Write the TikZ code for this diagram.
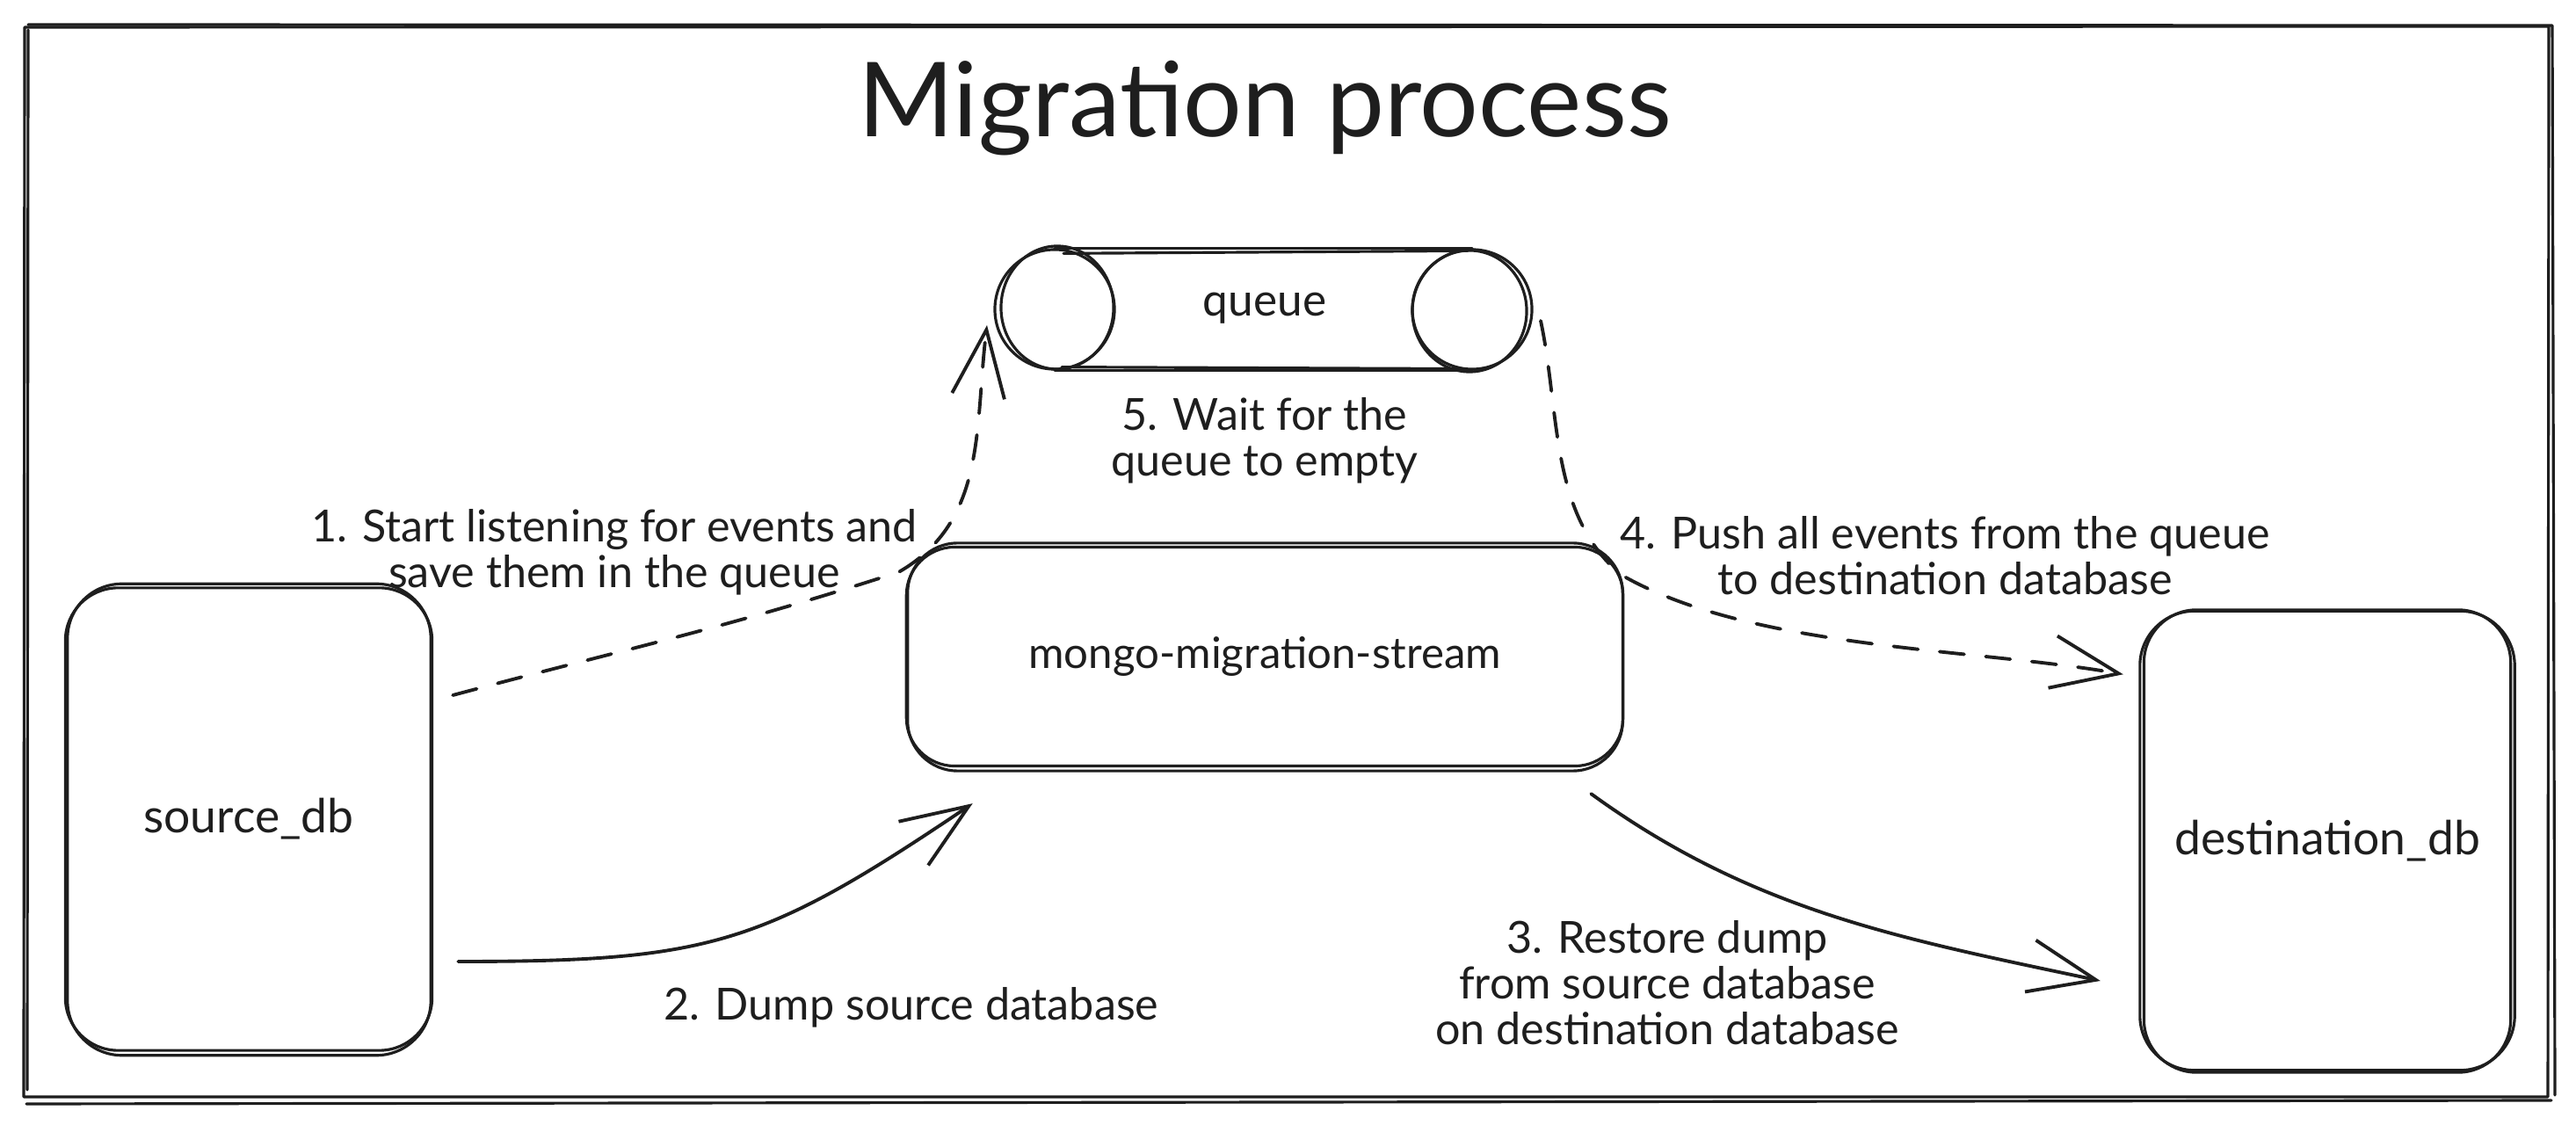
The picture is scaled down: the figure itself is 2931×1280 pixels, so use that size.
\documentclass[tikz,border=0pt]{standalone}
\usepackage{fontspec}
\setmainfont{Lato}
\usetikzlibrary{arrows.meta,calc}
\definecolor{ink}{HTML}{1E1E1E}
\begin{document}
\begin{tikzpicture}[x=0.01cm,y=-0.01cm,
  sk/.style={draw=ink, line width=0.9pt, line cap=round, line join=round},
  dbbox/.style={sk, rounded corners=0.6cm, minimum width=4.17cm, minimum height=5.26cm, inner sep=0pt, text=ink, font=\fontsize{15.2}{17}\selectfont},
  procbox/.style={sk, rounded corners=0.55cm, minimum width=8.15cm, minimum height=2.49cm, inner sep=0pt, text=ink, font=\fontsize{14}{16}\selectfont},
  qcircle/.style={sk, circle, minimum size=1.36cm, inner sep=0pt},
  lbl/.style={align=center, text=ink, inner sep=0pt, font=\fontsize{14.3}{14.8}\selectfont},
  conn/.style={ink, line width=1.1pt, line cap=round, line join=round,
    -{Straight Barb[length=0.76cm,width=0.6cm,line width=1.1pt]}},
  dconn/.style={conn, dash pattern=on 8pt off 7pt}
]
\useasboundingbox (0,0) rectangle (2931,1280);
\fill[white] (0,0) rectangle (2931,1280);

% outer frame (sketchy double stroke)
\draw[sk] (28,31) -- (2900,30) -- (2899,1248) -- (27,1248) -- cycle;
\draw[sk] (32,28) -- (2904,29) -- (2907,1246);
\draw[sk] (2903,1252) -- (30,1256);
\draw[sk] (31,1240) -- (32,34);

% title
\node[text=ink, font=\fontsize{33.5}{38}\selectfont] (title) at (1439,123) {Migration process};

% databases
\node[dbbox] (src) at (283,932) {source\_db};
\draw[sk, rounded corners=0.62cm] ($(src.north west)+(4,-3)$) rectangle ($(src.south east)+(-3,4)$);
\node[dbbox] (dst) at (2648,957) {destination\_db};
\draw[sk, rounded corners=0.62cm] ($(dst.north west)+(-3,3)$) rectangle ($(dst.south east)+(3,-4)$);

% mongo-migration-stream
\node[procbox] (mms) at (1439,747) {mongo-migration-stream};
\draw[sk, rounded corners=0.57cm] ($(mms.north west)+(3,-3)$) rectangle ($(mms.south east)+(-2,4)$);

% queue (horizontal cylinder)
\node[qcircle] (qL) at (1200,352) {};
\node[qcircle] (qR) at (1675,352) {};
\draw[sk] ($(qL.center)+(3,-2)$) ellipse [x radius=0.64cm, y radius=0.7cm];
\draw[sk] ($(qR.center)+(-3,2)$) ellipse [x radius=0.65cm, y radius=0.69cm];
\draw[sk] (qL.north) -- (qR.north);
\draw[sk] ($(qL.north)+(10,6)$) -- ($(qR.north)+(-5,3)$);
\draw[sk] (qL.south) -- (qR.south);
\draw[sk] ($(qL.south)+(8,-4)$) -- ($(qR.south)+(-6,-2)$);
\node[text=ink, font=\fontsize{14.6}{16}\selectfont] (queue) at (1439,351) {queue};

% connector end points and bends
\coordinate (a1s) at ($(src.east)+(22,-141)$);
\coordinate (a1m) at ($(mms.north west)+(-7,30)$);
\coordinate (a1e) at ($(qL.center)+(-77,18)$);
\coordinate (a2s) at ($(src.east)+(28,162)$);
\coordinate (a2e) at ($(mms.south west)+(77,41)$);
\coordinate (a3s) at ($(mms.south east)+(-38,30)$);
\coordinate (a3e) at ($(dst.west)+(-48,159)$);
\coordinate (a4s) at ($(qR.center)+(78,13)$);
\coordinate (a4m) at ($(mms.north east)+(-4,33)$);
\coordinate (a4e) at ($(dst.north west)+(-22,75)$);

% connectors
\draw[dconn] (a1s) to[out=15, in=198] (a1m) to[out=30, in=-97] (a1e);
\draw[conn] (a2s) to[out=0, in=214, looseness=1.2] (a2e);
\draw[conn] (a3s) to[out=-36, in=168, looseness=0.95] (a3e);
\draw[dconn] (a4s) to[out=-78, in=140, looseness=0.9] (a4m) to[out=-30, in=170, looseness=0.75] (a4e);

% labels
\node[lbl] (l1) at (699,628) {1. Start listening for events and\\save them in the queue};
\node[lbl] (l2) at (1037,1146) {2. Dump source database};
\node[lbl] (l3) at (1897,1118) {3. Restore dump\\from source database\\on destination database};
\node[lbl] (l4) at (2213,632) {4. Push all events from the queue\\to destination database};
\node[lbl] (l5) at (1439,501) {5. Wait for the\\queue to empty};
\end{tikzpicture}
\end{document}
